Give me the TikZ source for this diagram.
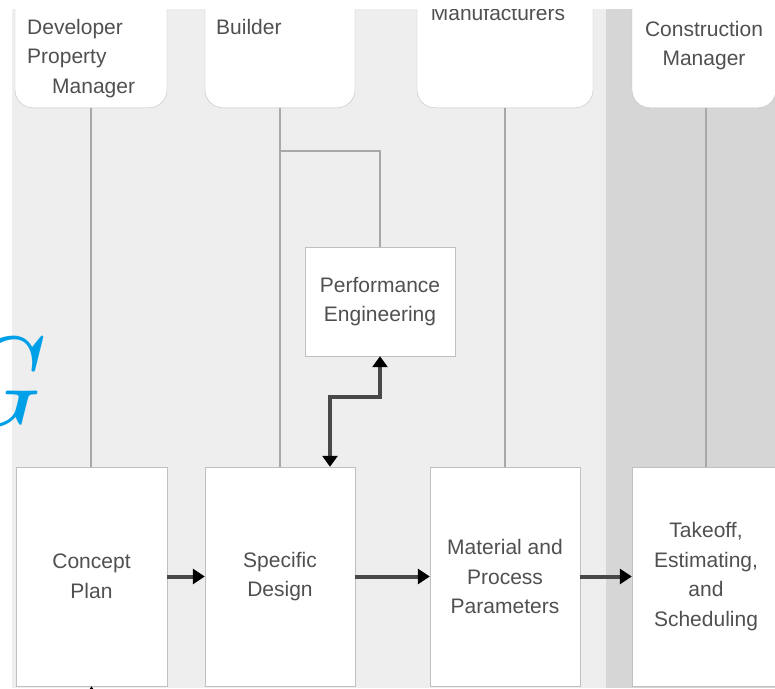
\documentclass[tikz,border=0pt]{standalone}
\usepackage{fontspec}
\setsansfont{Liberation Sans}
\usetikzlibrary{arrows.meta, positioning}
\definecolor{lanelight}{RGB}{238,238,238}
\definecolor{lanedark}{RGB}{214,214,214}
\definecolor{boxline}{RGB}{192,192,192}
\definecolor{lanegray}{RGB}{168,168,168}
\definecolor{labeltext}{RGB}{80,80,80}
\definecolor{flowline}{RGB}{72,72,72}
\definecolor{markblue}{RGB}{0,160,233}
\newcommand{\labelfont}{\sffamily\fontsize{21}{29.5}\selectfont}

\begin{document}
\begin{tikzpicture}[
    x=1pt, y=-1pt,
    lanehead/.style={draw=boxline, fill=white, rounded corners=18pt, minimum height=140pt, anchor=south, inner sep=0pt},
    stagebox/.style={draw=boxline, fill=white, minimum height=219pt, inner sep=0pt, align=center, font=\labelfont, text=labeltext},
    headtext/.style={inner sep=0pt, font=\labelfont, text=labeltext},
    laneline/.style={draw=lanegray, line width=1.1pt},
    flow/.style={draw=flowline, line width=4pt, -{Triangle[length=12pt, width=15pt, color=black]}},
    twoway/.style={draw=flowline, line width=3.5pt, {Triangle[length=11pt, width=15pt, color=black]}-{Triangle[length=11pt, width=15pt, color=black]}}
]
    \useasboundingbox (0,0) rectangle (775,688);
    \fill[white] (0,0) rectangle (775,688);

    \begin{scope}
    \clip (12,9) rectangle (775,688);
    % Lanes
    \fill[lanelight] (12,9) rectangle (606,688);
    \fill[lanedark] (606,9) rectangle (775,688);

    % Lane heads
    \node[lanehead, minimum width=152pt] (devhead) at (91,108) {};
    \node[lanehead, minimum width=150pt] (buildhead) at (280,108) {};
    \node[lanehead, minimum width=176pt] (manuhead) at (505,108) {};
    \node[lanehead, minimum width=144pt] (cmhead) at (704,108) {};

    \node[headtext, anchor=north west, align=left] (devtext) at (27,19) {Developer\\Property\\\hspace*{25pt}Manager};
    \node[headtext, anchor=north west] (buildtext) at (216,19) {Builder};
    \node[headtext, anchor=base] (manutext) at (498,20) {Manufacturers};
    \node[headtext, anchor=north, align=center] (cmtext) at (704,21) {Construction\\Manager};

    % Stages
    \node[stagebox, minimum width=151pt] (concept) at (91.5,576.5) {Concept\\Plan};
    \node[stagebox, minimum width=150pt] (design) at (280,576.5) {Specific\\Design};
    \node[stagebox, minimum width=150pt] (material) at (505,576.5) {Material and\\Process\\Parameters};
    \node[stagebox, minimum width=148pt] (takeoff) at (706,576.5) {Takeoff,\\Estimating,\\and\\Scheduling};
    \node[stagebox, minimum width=150pt, minimum height=109pt] (perf) at (380,301.5) {Performance\\Engineering};

    % Lane lines
    \draw[laneline] (devhead.south) -- (devhead.south |- concept.north);
    \draw[laneline] (buildhead.south) -- (design.north);
    \coordinate (split) at (280,151);
    \draw[laneline] (split) -| (perf.north);
    \draw[laneline] (manuhead.south) -- (material.north);
    \draw[laneline] ([xshift=2pt]cmhead.south) -- ([xshift=2pt]cmhead.south |- takeoff.north);

    % Flow
    \draw[flow] (concept.east) -- (design.west);
    \draw[flow] (design.east) -- (material.west);
    \draw[flow] (material.east) -- (takeoff.west);
    \coordinate (bend) at (330,397);
    \draw[twoway] (perf.south) |- (bend) -- (bend |- design.north);
    \coordinate (below) at (91.5,720);
    \draw[flow] (below) -- (concept.south);
    \end{scope}

    % Letter at the edge
    \node[anchor=base east, inner sep=0pt, text=markblue, font=\rmfamily\itshape\fontsize{127}{127}\selectfont] (mark) at (39,425) {G};
\end{tikzpicture}
\end{document}
